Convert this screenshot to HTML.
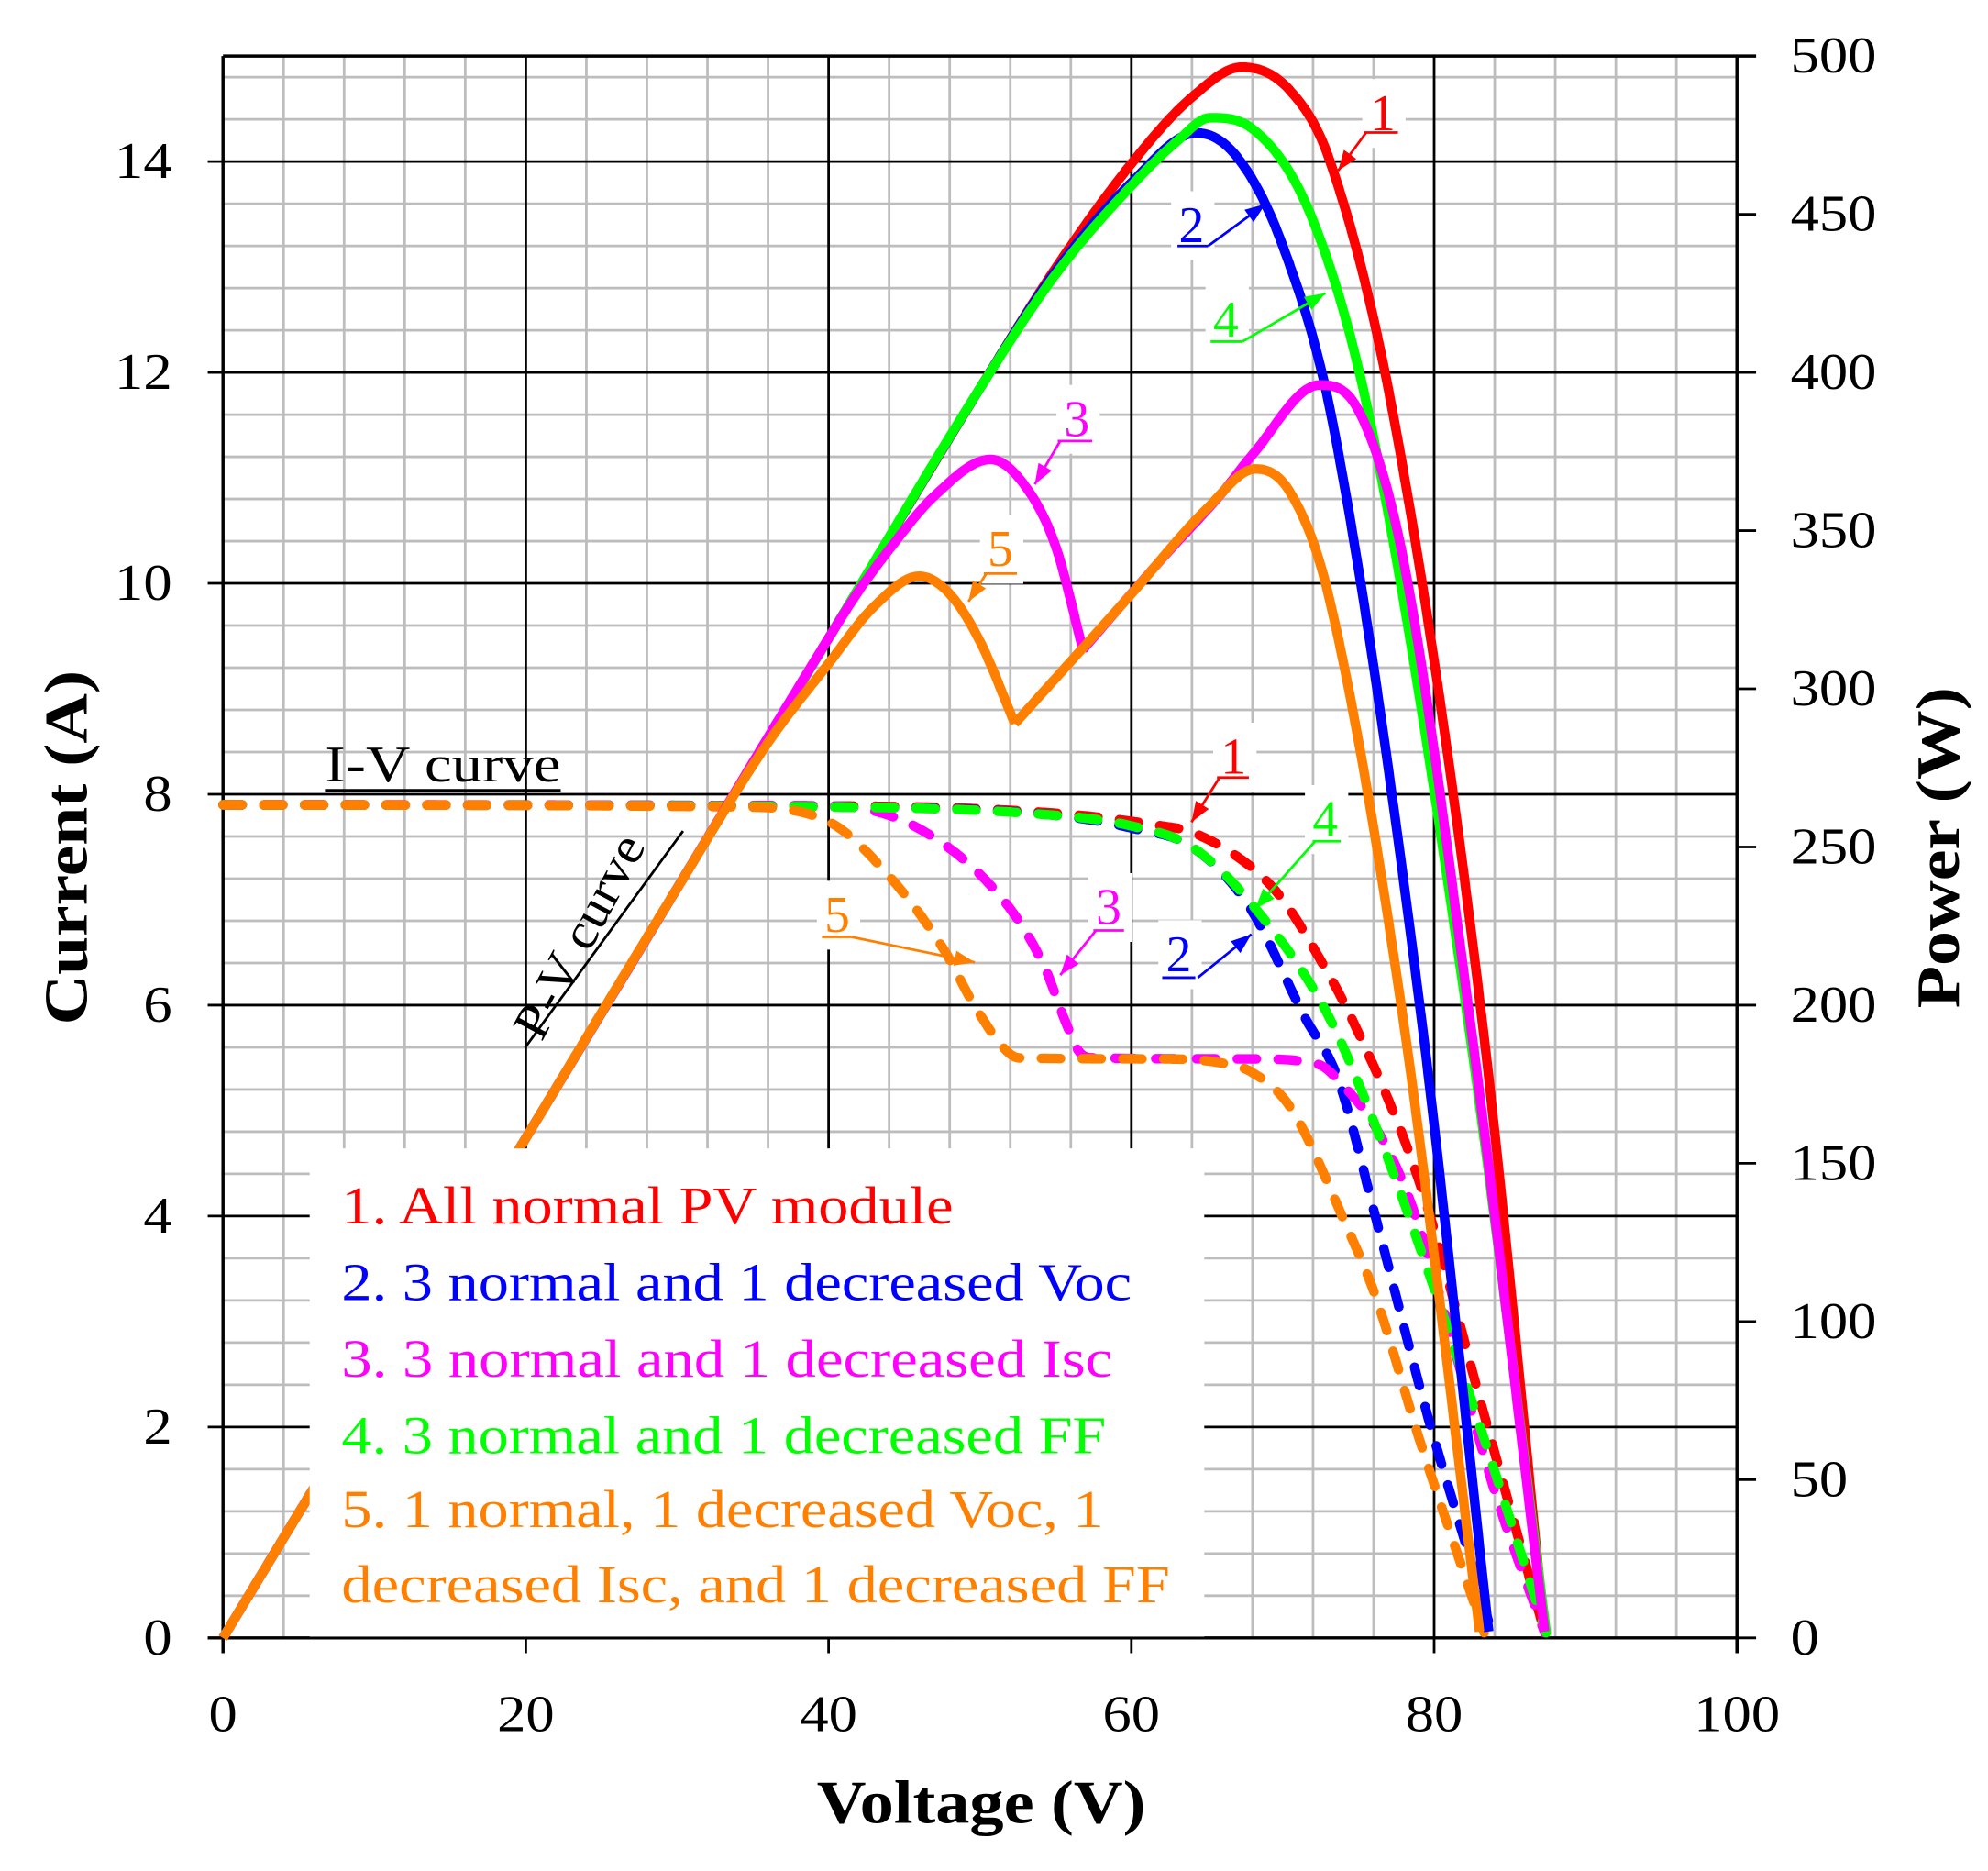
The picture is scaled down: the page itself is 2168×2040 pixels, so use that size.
<!DOCTYPE html>
<html><head><meta charset="utf-8"><style>html,body{margin:0;padding:0;background:#fff}svg{display:block}text{font-family:"Liberation Serif","Times New Roman",Times,serif}</style></head>
<body>
<svg id="s" width="2168" height="2040" viewBox="0 0 2168 2040" xmlns="http://www.w3.org/2000/svg">
<g id="g" transform="scale(1.38974)"></g>
</svg>
<script>
const NS="http://www.w3.org/2000/svg";
const g=document.getElementById('g');
function el(t,a,txt){const e=document.createElementNS(NS,t);for(const k in a)e.setAttribute(k,a[k]);if(t==='text')e.setAttribute('font-family','Liberation Serif, Times New Roman, serif');if(txt!==undefined)e.textContent=txt;g.appendChild(e);return e;}
const X=v=>175+v*11.88, YI=i=>1285-i*82.733, YP=p=>1285-p*2.482;
for(let v=4;v<100;v+=4){if(v%20)el('line',{x1:X(v),y1:44,x2:X(v),y2:1285,stroke:'#bdbdbd','stroke-width':2});}
for(let k=1;k<=37;k++){const i=k*0.4;if(Math.abs(i/2-Math.round(i/2))>0.01)el('line',{x1:175,y1:YI(i),x2:1363,y2:YI(i),stroke:'#bdbdbd','stroke-width':2});}
for(let v=20;v<100;v+=20)el('line',{x1:X(v),y1:44,x2:X(v),y2:1297,stroke:'#000','stroke-width':2});
for(let i=2;i<=14;i+=2)el('line',{x1:163,y1:YI(i),x2:1363,y2:YI(i),stroke:'#000','stroke-width':2});
for(let p=0;p<=500;p+=50)el('line',{x1:1363,y1:YP(p),x2:1378,y2:YP(p),stroke:'#000','stroke-width':2});
el('line',{x1:163,y1:1285,x2:1363,y2:1285,stroke:'#000','stroke-width':2.5});
el('line',{x1:175,y1:44,x2:1378,y2:44,stroke:'#000','stroke-width':2.5});
el('line',{x1:175,y1:44,x2:175,y2:1297,stroke:'#000','stroke-width':2.5});
el('line',{x1:1363,y1:44,x2:1363,y2:1297,stroke:'#000','stroke-width':2.5});
el('line',{x1:X(100),y1:1285,x2:X(100),y2:1297,stroke:'#000','stroke-width':2.5});
function mono(pts){
 const n=pts.length,xs=pts.map(p=>p[0]),ys=pts.map(p=>p[1]);
 const d=[],m=[];
 for(let i=0;i<n-1;i++)d.push((ys[i+1]-ys[i])/(xs[i+1]-xs[i]));
 m[0]=d[0];m[n-1]=d[n-2];
 for(let i=1;i<n-1;i++){m[i]=(d[i-1]*d[i]<=0)?0:(d[i-1]+d[i])/2;}
 for(let i=0;i<n-1;i++){if(d[i]===0){m[i]=0;m[i+1]=0;continue;}const a=m[i]/d[i],b=m[i+1]/d[i],s=a*a+b*b;if(s>9){const t=3/Math.sqrt(s);m[i]=t*a*d[i];m[i+1]=t*b*d[i];}}
 return v=>{let i=0;while(i<n-2&&v>xs[i+1])i++;const h=xs[i+1]-xs[i],t=(v-xs[i])/h,t2=t*t,t3=t2*t;
  return (2*t3-3*t2+1)*ys[i]+(t3-2*t2+t)*h*m[i]+(-2*t3+3*t2)*ys[i+1]+(t3-t2)*h*m[i+1];};
}
function pathOf(pts,Y){const f=mono(pts);const a=pts[0][0],b=pts[pts.length-1][0];let d='';const N=Math.ceil((b-a)/0.1);
 for(let k=0;k<=N;k++){const v=a+(b-a)*k/N;d+=(d?'L':'M')+X(v).toFixed(1)+','+Y(f(v)).toFixed(1);}return d;}
const C={r:'#ff0000',b:'#0000ff',m:'#ff00ff',g:'#00ff00',o:'#ff8000'};
const IV={
 r:[[0,7.9],[40,7.89],[55,7.82],[62,7.7],[64,7.64],[68,7.3],[70,7.0],[72,6.55],[74.7,5.83],[79.1,4.29],[83.2,2.17],[87.3,0.05]],
 b:[[0,7.9],[40,7.88],[55,7.8],[60,7.68],[64,7.5],[67.8,6.93],[71.4,5.9],[73.65,5.3],[76.2,3.95],[79.6,2.09],[82.9,0.5],[83.8,0.05]],
 m:[[0,7.9],[40,7.89],[45.9,7.68],[51.8,6.95],[54.3,6.35],[55.6,5.86],[56.6,5.55],[57.5,5.5],[68,5.49],[72.3,5.44],[74.1,5.22],[76.1,4.85],[78.5,4.11],[84.2,1.3],[87.3,0.05]],
 g:[[0,7.9],[40,7.88],[55,7.8],[60,7.7],[64,7.5],[68,6.95],[72.9,5.93],[76,4.9],[79.6,3.48],[83.5,1.8],[87.4,0.05]],
 o:[[0,7.9],[34,7.88],[40,7.74],[44.2,7.19],[47.6,6.53],[49.7,5.98],[51.8,5.56],[52.6,5.5],[62,5.49],[66,5.45],[68,5.36],[70.5,5.03],[74.1,3.94],[76.1,3.25],[79.1,1.85],[83.3,0.05]]
};
const L=[[0,0],[10,79],[20,158],[30,237],[40,316]];
const PV={
 r:[L.concat([[50,395],[55,433],[60,466],[64,487],[67.3,496.5],[70.5,489],[73.1,467],[77.4,384],[83.1,198],[87.3,2]])],
 b:[L.concat([[50,395],[55,432],[60,460],[64.3,475.7],[67,468],[70,440],[73.3,384],[79.1,198],[83.6,2]])],
 g:[L.concat([[50,395],[55,431],[60,459],[63,473],[65.2,480.5],[68,477],[72,448],[75.8,384],[82.15,198],[87.4,2]])],
 m:[L.concat([[42,331],[44,344],[47,361],[50.7,372.5],[53,364],[55,345],[56.8,312.4]]),[[56.8,312.4],[62,341],[66,362],[68,374],[72.4,396],[75,388],[78,340],[82.3,198],[87.3,2]]],
 o:[[[0,0],[10,79],[20,158],[30,237],[36,283],[40,308],[43,326],[46,335.6],[48,330],[50,315],[52.3,289]],[[52.3,289],[60,330],[65,357],[68.2,369.5],[70.5,362],[73,330],[77.86,198.6],[83,2]]]
};
for(const k of ['r','b','m','g','o'])el('path',{d:pathOf(IV[k],YI),fill:'none',stroke:C[k],'stroke-width':7.5,'stroke-dasharray':'15 17','stroke-linecap':'round'});
for(const k of ['r','b','g','m','o'])for(const seg of PV[k])el('path',{d:pathOf(seg,YP),fill:'none',stroke:C[k],'stroke-width':7.5,'stroke-linejoin':'round'});
el('rect',{x:243,y:901,width:702,height:383,fill:'#fff'});
const leg=[['1. All normal PV module','#ff0000',960,480],['2. 3 normal and 1 decreased Voc','#0000ff',1020,620],['3. 3 normal and 1 decreased Isc','#ff00ff',1080,605],['4. 3 normal and 1 decreased FF','#00ff00',1140,600],['5. 1 normal, 1 decreased Voc, 1','#ff8000',1198,598],['decreased Isc, and 1 decreased FF','#ff8000',1257,650]];
for(const l of leg)el('text',{x:268,y:l[2],fill:l[1],'font-size':42,textLength:l[3],lengthAdjust:'spacingAndGlyphs'},l[0]);
function lab(t,c,tx,ty,ux1,ux2,uy,ax,ay,bx,by){
 el('rect',{x:tx-16,y:ty-40,width:34,height:54,fill:'#fff'});
 el('text',{x:tx,y:ty,fill:c,'font-size':40,'text-anchor':'middle'},t);
 el('line',{x1:ux1,y1:uy,x2:ux2,y2:uy,stroke:c,'stroke-width':2});
 el('line',{x1:ax,y1:ay,x2:bx,y2:by,stroke:c,'stroke-width':2});
 const ang=Math.atan2(by-ay,bx-ax),Lh=16,W=6;
 const p1=[bx-Lh*Math.cos(ang)+W*Math.sin(ang),by-Lh*Math.sin(ang)-W*Math.cos(ang)],p2=[bx-Lh*Math.cos(ang)-W*Math.sin(ang),by-Lh*Math.sin(ang)+W*Math.cos(ang)];
 el('polygon',{points:`${bx},${by} ${p1} ${p2}`,fill:c});
}
lab('1','#ff0000',1085,102,1070,1097,104,1072,104,1050,134);
lab('2','#0000ff',935,190,924,948,193,948,193,993,160);
lab('4','#00ff00',962,264,950,975,268,975,268,1040,230);
lab('3','#ff00ff',845,342,830,857,346,832,346,812,380);
lab('5','#ff8000',785,444,772,798,450,774,450,760,472);
lab('1','#ff0000',968,607,955,980,610,957,610,935,645);
lab('4','#00ff00',1040,656,1030,1052,660,1032,660,985,713);
lab('3','#ff00ff',870,725,858,882,730,860,730,832,765);
lab('2','#0000ff',925,762,912,938,767,940,767,982,733);
lab('5','#ff8000',657,731,645,668,735,668,735,765,755);
el('text',{x:255,y:613,fill:'#000','font-size':40,textLength:185,lengthAdjust:'spacingAndGlyphs'},'I-V curve');
el('line',{x1:255,y1:620,x2:440,y2:620,stroke:'#000','stroke-width':2});
el('text',{x:0,y:0,fill:'#000','font-size':40,transform:'translate(425,818) rotate(-62)',textLength:175,lengthAdjust:'spacingAndGlyphs'},'P-V curve');
el('line',{x1:412,y1:822,x2:536,y2:652,stroke:'#000','stroke-width':2});
const tl=s=>({textLength:s.length*22.5,lengthAdjust:'spacingAndGlyphs'});
for(let i=0;i<=14;i+=2)el('text',Object.assign({x:135,y:YI(i)+13,'font-size':40,'text-anchor':'end'},tl(String(i))),String(i));
for(let p=0;p<=500;p+=50)el('text',Object.assign({x:1405,y:YP(p)+13,'font-size':40},tl(String(p))),String(p));
for(let v=0;v<=100;v+=20)el('text',Object.assign({x:X(v),y:1358,'font-size':40,'text-anchor':'middle'},tl(String(v))),String(v));
el('text',{x:770,y:1430,'font-size':48,'font-weight':'bold','text-anchor':'middle',textLength:258,lengthAdjust:'spacingAndGlyphs'},'Voltage (V)');
el('text',{x:0,y:0,'font-size':48,'font-weight':'bold','text-anchor':'middle',transform:'translate(68,665) rotate(-90)',textLength:278,lengthAdjust:'spacingAndGlyphs'},'Current (A)');
el('text',{x:0,y:0,'font-size':48,'font-weight':'bold','text-anchor':'middle',transform:'translate(1537,665) rotate(-90)',textLength:252,lengthAdjust:'spacingAndGlyphs'},'Power (W)');
</script>
</body></html>
